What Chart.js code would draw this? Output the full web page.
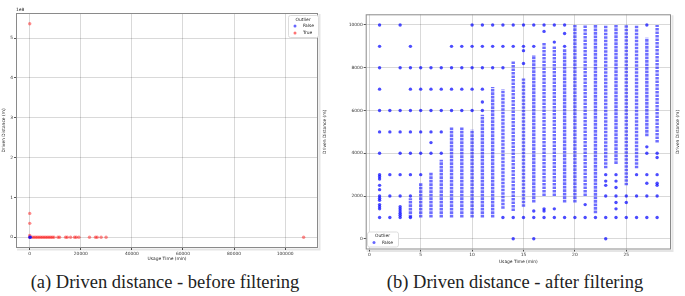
<!DOCTYPE html>
<html>
<head>
<meta charset="utf-8" />
<title>Driven distance</title>
<script src="https://cdn.jsdelivr.net/npm/chart.js"></script>
<style>
  body { margin: 0; background: #fff; width: 685px; height: 296px; position: relative; overflow: hidden; }
  #left { position: absolute; left: 0; top: 0; }
  #right { position: absolute; left: 322px; top: 0; }
  .cap { position: absolute; top: 272px; width: 330px; text-align: center; font-family: "Liberation Serif", serif; font-size: 18.5px; color: #222; white-space: nowrap; }
</style>
</head>
<body>
<canvas id="left" width="322" height="270"></canvas>
<canvas id="right" width="363" height="270"></canvas>
<div class="cap" style="left:0px">(a) Driven distance - before filtering</div>
<div class="cap" style="left:350px">(b) Driven distance - after filtering</div>
<script>
// ---- (a) before filtering ----
const trueX = [0, 0, 0, 0, 0, 1040, 1690, 2340, 2990, 3640, 4290, 4940, 5590, 6240, 6890, 7540, 8190, 8840, 9490,
  11050, 11700, 14040, 14690, 15990, 17550, 18200, 19240, 23400, 25740, 26390, 27950, 29900, 107250];
const trueY = [536000000, 60000000, 35000000, 5000000, 0, 0, 0, 0, 0, 0, 0, 0, 0, 0, 0, 0, 0, 0, 0,
  0, 0, 0, 0, 0, 0, 0, 0, 0, 0, 0, 0, 0, 0];
const falseX = [0, 300];
const falseY = [0, 0];
const leftXTicks = [0, 20000, 40000, 60000, 80000, 100000];
const leftYTicks = [0, 100000000, 200000000, 300000000, 400000000, 500000000];

// ---- (b) after filtering ----
const minutes = [1, 2, 3, 4, 5, 6, 7, 8, 9, 10, 11, 12, 13, 14, 15, 16, 17, 18, 19, 20, 21, 22, 23, 24, 25, 26, 27, 28];
// separate dots for each minute
const dots = [
  [10000, 9000, 8000, 7000, 6000, 5000, 4000, 3000, 2900, 2800, 2500, 2300, 2000, 1900, 1800, 1600, 1500, 1400, 1000],
  [6000, 5000, 3000, 2000, 1000],
  [10000, 8000, 6000, 5000, 4000, 3000, 2000, 1500, 1400, 1300, 1200, 1100, 1000],
  [9000, 8000, 7000, 6000, 5000, 4000, 3000, 2000, 1000],
  [8000, 7000, 6000, 5000, 4000, 3000],
  [8000, 7000, 6000, 5000, 4500, 4000],
  [8000, 7000, 6000, 5000, 4000],
  [9000, 8000, 7000, 6000],
  [9000, 8000, 7000, 6000],
  [10000, 9000, 8000, 7000, 6000],
  [10000, 9000, 8000, 7000, 6400, 6000],
  [10000, 9000, 8000],
  [10000, 9000, 8000, 1000],
  [10000, 9000, 1000, 0],
  [10000, 9000, 8800, 8200, 1000],
  [10000, 9000, 1300, 1000, 0],
  [10000, 9700, 1400, 1300, 1000],
  [10000, 9200, 1400, 1000],
  [10000, 9600, 9000, 1000],
  [1000],
  [1600, 1000],
  [1000],
  [3000, 2700, 2500, 2000, 1000, 0],
  [3000, 2700, 2400, 2000, 1700, 1400, 1000],
  [2000, 1700, 1000],
  [3000, 2000, 1000],
  [10000, 4300, 4000, 3000, 2600, 2000, 1000],
  [4000, 3800, 3000, 2600, 2500, 2000, 1000]
];
// dense stacks of dots: lowest and highest distance per minute
const denseLow = [null, null, null, 1000, 1000, 1000, 1000, 1000, 1000, 1000, 1000, 1000, 1400, 1300,
  1500, 1700, 2000, 2000, 1700, 1700, 2000, 1200, 3300, 3500, 2500, 3300, 4800, 4500];
const denseHigh = [null, null, null, 1900, 2600, 3100, 3700, 5200, 5200, 5100, 5800, 7100, 7000, 8300,
  7500, 8600, 9200, 9000, 8900, 10000, 10000, 10000, 10000, 10000, 10000, 10000, 9400, 10000];
const rightXTicks = [0, 5, 10, 15, 20, 25];
const rightYTicks = [0, 2000, 4000, 6000, 8000, 10000];

const tickFont = { family: 'DejaVu Sans', size: 4.4 };
const gridStyle = { color: 'rgba(0,0,0,0.15)', lineWidth: 1, tickLength: 2, tickColor: '#555' };

// frame, legend box and loose labels
const decor = {
  id: 'decor',
  afterDraw(chart, args, o) {
    const { ctx, chartArea: a } = chart;
    ctx.save();
    ctx.strokeStyle = 'rgba(0,0,0,0.10)';
    ctx.lineWidth = 2;
    ctx.beginPath();
    ctx.moveTo(a.right + 1.5, a.top + 1); ctx.lineTo(a.right + 1.5, a.bottom + 1.5); ctx.lineTo(a.left + 1, a.bottom + 1.5);
    ctx.stroke();
    ctx.strokeStyle = '#8a8a8a';
    ctx.lineWidth = 1;
    ctx.strokeRect(a.left + 0.5, a.top + 0.5, a.right - a.left - 1, a.bottom - a.top - 1);

    const L = o.legend;
    ctx.fillStyle = '#fff';
    ctx.strokeStyle = '#dddddd';
    ctx.beginPath();
    ctx.roundRect(L.x + 0.5, L.y + 0.5, L.w, L.h, 2);
    ctx.fill(); ctx.stroke();
    ctx.font = '4.4px "DejaVu Sans"';
    ctx.textBaseline = 'middle';
    ctx.fillStyle = '#222';
    ctx.textAlign = 'center';
    ctx.fillText('Outlier', L.x + L.w / 2, L.y + 4.5);
    ctx.textAlign = 'left';
    L.items.forEach((it, i) => {
      const yy = L.y + 11 + i * 7;
      ctx.fillStyle = it.color;
      ctx.beginPath(); ctx.arc(L.x + 7, yy, 1.5, 0, Math.PI * 2); ctx.fill();
      ctx.fillStyle = '#222';
      ctx.fillText(it.label, L.x + 15, yy);
    });

    (o.texts || []).forEach(t => {
      ctx.save();
      ctx.translate(t.x, t.y);
      ctx.rotate(t.rot || 0);
      ctx.textAlign = t.align || 'left';
      ctx.fillStyle = '#222';
      ctx.fillText(t.text, 0, 0);
      ctx.restore();
    });
    ctx.restore();
  }
};

function pts(xs, ys) { return xs.map((x, i) => ({ x: x, y: ys[i] })); }

new Chart(document.getElementById('left'), {
  type: 'scatter',
  data: {
    datasets: [
      { label: 'False', data: pts(falseX, falseY), backgroundColor: 'rgba(0,0,255,0.6)', pointRadius: 1.7, borderWidth: 0 },
      { label: 'True', data: pts(trueX, trueY), backgroundColor: 'rgba(255,0,0,0.45)', pointRadius: 1.7, borderWidth: 0 }
    ]
  },
  options: {
    responsive: false, animation: false,
    layout: { padding: { top: 13, right: 2, left: 0, bottom: 0 } },
    plugins: {
      legend: { display: false }, tooltip: { enabled: false },
      decor: {
        legend: { x: 288, y: 15, w: 30, h: 22, items: [{ label: 'False', color: 'rgba(0,0,255,0.6)' }, { label: 'True', color: 'rgba(255,0,0,0.55)' }] },
        texts: [{ text: '1e8', x: 16, y: 10 }]
      }
    },
    scales: {
      x: {
        type: 'linear', min: -5375, max: 112875,
        afterBuildTicks: s => { s.ticks = leftXTicks.map(v => ({ value: v })); },
        afterFit: s => { s.height = 22; },
        ticks: { font: tickFont, color: '#333', padding: 1, maxRotation: 0, callback: v => String(v) },
        grid: gridStyle, border: { display: false },
        title: { display: true, text: 'Usage Time (min)', font: tickFont, color: '#222', padding: { top: 0, bottom: 9 } }
      },
      y: {
        type: 'linear', min: -26800000, max: 562800000,
        afterBuildTicks: s => { s.ticks = leftYTicks.map(v => ({ value: v })); },
        afterFit: s => { s.width = 16; },
        ticks: { font: tickFont, color: '#333', padding: 1, callback: v => String(v / 100000000) },
        grid: gridStyle, border: { display: false },
        title: { display: true, text: 'Driven Distance (m)', font: tickFont, color: '#222', padding: { top: 1, bottom: 0 } }
      }
    }
  },
  plugins: [decor]
});

const rightSets = [];
minutes.forEach((m, i) => {
  if (denseLow[i] !== null) {
    rightSets.push({
      data: [{ x: m, y: denseLow[i] }, { x: m, y: denseHigh[i] }],
      showLine: true, borderColor: 'rgba(20,20,255,0.62)', borderWidth: 3.4, borderDash: [2.6, 0.9],
      pointRadius: 0
    });
  }
});
rightSets.push({
  label: 'False',
  data: minutes.flatMap((m, i) => dots[i].map(d => ({ x: m, y: d }))),
  backgroundColor: 'rgba(0,0,255,0.7)', pointRadius: 1.7, borderWidth: 0
});

new Chart(document.getElementById('right'), {
  type: 'scatter',
  data: { datasets: rightSets },
  options: {
    responsive: false, animation: false,
    layout: { padding: { top: 14.3, right: 14, left: 0, bottom: 0 } },
    plugins: {
      legend: { display: false }, tooltip: { enabled: false },
      decor: {
        legend: { x: 45, y: 231.5, w: 31, h: 15, items: [{ label: 'False', color: 'rgba(0,0,255,0.6)' }] },
        texts: [{ text: 'Driven Distance (m)', x: 356, y: 132, rot: -Math.PI / 2, align: 'center' }]
      }
    },
    scales: {
      x: {
        type: 'linear', min: -0.35, max: 29.35,
        afterBuildTicks: s => { s.ticks = rightXTicks.map(v => ({ value: v })); },
        afterFit: s => { s.height = 20.5; },
        ticks: { font: tickFont, color: '#333', padding: 1, maxRotation: 0, callback: v => String(v) },
        grid: gridStyle, border: { display: false },
        title: { display: true, text: 'Usage Time (min)', font: tickFont, color: '#222', padding: { top: 0, bottom: 6 } }
      },
      y: {
        type: 'linear', min: -500, max: 10500,
        afterBuildTicks: s => { s.ticks = rightYTicks.map(v => ({ value: v })); },
        afterFit: s => { s.width = 43.7; },
        ticks: { font: tickFont, color: '#333', padding: 1, callback: v => String(v) },
        grid: gridStyle, border: { display: false },
        title: { display: true, text: 'Driven Distance (m)', font: tickFont, color: '#222', padding: { top: 0.5, bottom: 0 } }
      }
    }
  },
  plugins: [decor]
});
</script>
</body>
</html>
